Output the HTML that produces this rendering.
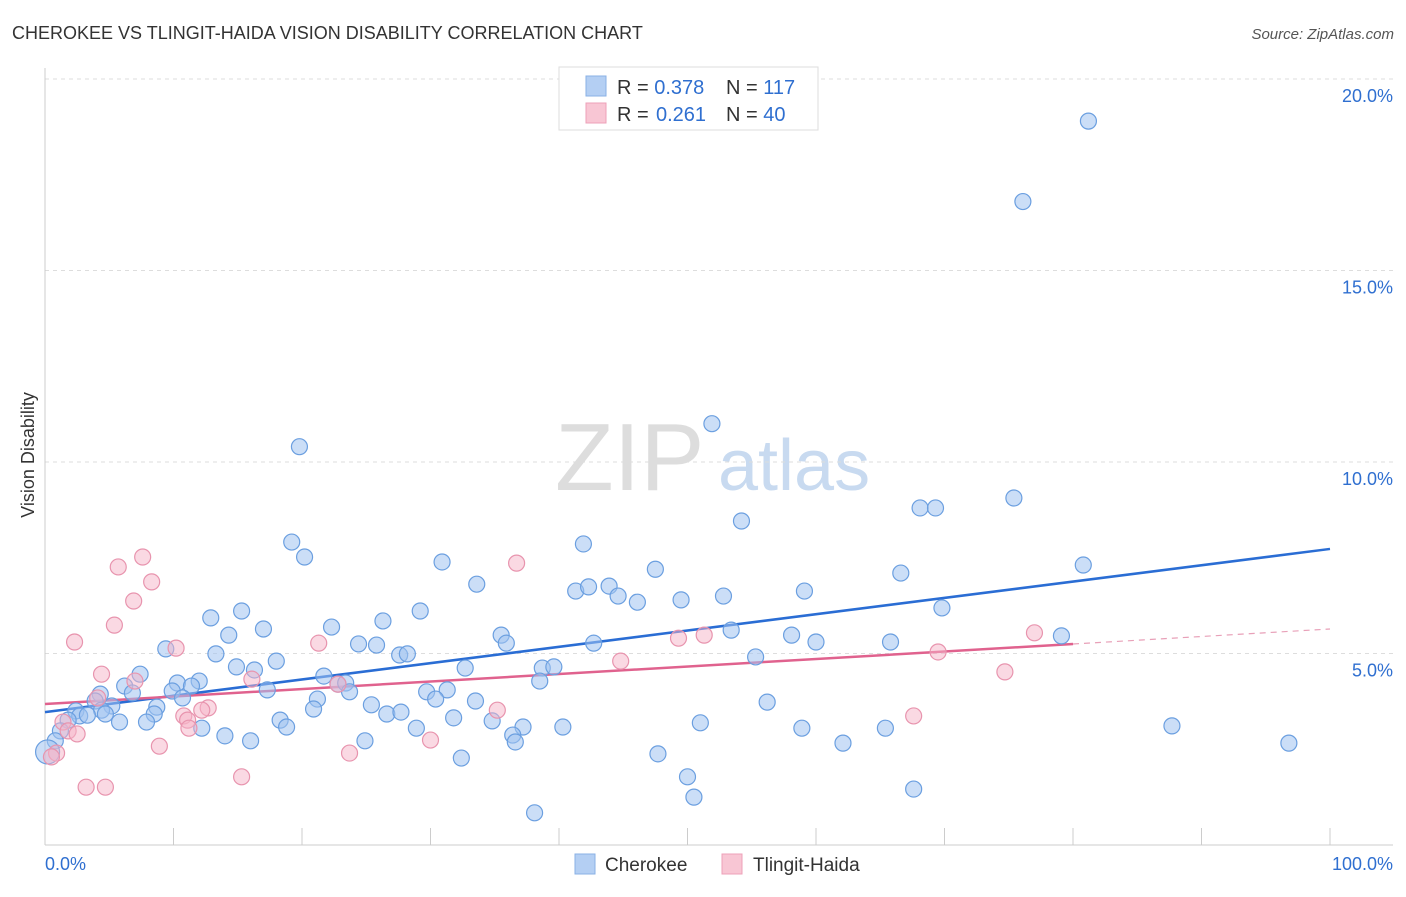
<!DOCTYPE html>
<html><head><meta charset="utf-8"><style>
body{margin:0;background:#fff;font-family:"Liberation Sans",sans-serif;}
svg text{font-family:"Liberation Sans",sans-serif;}
</style></head><body>
<svg id="c" width="1406" height="892" xmlns="http://www.w3.org/2000/svg">
<text x="12" y="39" font-size="18" fill="#333">CHEROKEE VS TLINGIT-HAIDA VISION DISABILITY CORRELATION CHART</text>
<text x="1394" y="39" font-size="15" font-style="italic" fill="#555" text-anchor="end">Source: ZipAtlas.com</text>
<text x="34" y="455" font-size="18" fill="#333" text-anchor="middle" transform="rotate(-90 34 455)">Vision Disability</text>
<g><text x="555" y="490" font-size="96" font-family="Liberation Serif" fill="#ddd">ZIP</text><text x="718" y="490" font-size="72" fill="#c8daf0">atlas</text></g>
<g id="grid"></g><g id="axes"></g><g id="trend"></g><g id="pts"></g>
<g>
<rect x="559" y="67" width="259" height="63" fill="#fff" stroke="#ddd"/>
<rect x="586" y="76" width="20" height="20" fill="#b4cff3" stroke="#8ab0e6"/>
<rect x="586" y="103" width="20" height="20" fill="#f8c6d4" stroke="#eea0b8"/>
<text x="617" y="94" font-size="20" fill="#333">R = <tspan fill="#2f6fd0">0.378</tspan><tspan x="726">N = </tspan><tspan fill="#2f6fd0">117</tspan></text>
<text x="617" y="121" font-size="20" fill="#333">R = <tspan fill="#2f6fd0" x="656">0.261</tspan><tspan x="726">N = </tspan><tspan fill="#2f6fd0">40</tspan></text>
</g>
<g>
<rect x="575" y="854" width="20" height="20" fill="#b4cff3" stroke="#8ab0e6"/>
<text x="605" y="871" font-size="19" fill="#333">Cherokee</text>
<rect x="722" y="854" width="20" height="20" fill="#f8c6d4" stroke="#eea0b8"/>
<text x="753" y="871" font-size="19" fill="#333">Tlingit-Haida</text>
</g>
</svg>
<script>
const blueX=[81.2,76.1,19.8,51.9,54.2,68.1,69.3,75.4,19.2,20.2,30.9,41.9,47.5,66.6,80.8,33.6,41.3,42.3,43.9,44.6,46.1,49.5,52.8,59.1,69.8,15.3,12.9,29.2,26.3,22.3,17.0,14.3,35.5,35.9,24.4,25.8,42.7,53.4,58.1,60.0,65.8,79.1,9.4,13.3,27.6,28.2,18.0,14.9,16.3,32.7,38.7,39.6,55.3,7.4,21.7,38.5,6.2,10.3,12.0,11.4,9.9,22.8,23.4,23.7,4.3,6.8,17.3,29.7,31.3,30.4,10.7,21.2,3.9,33.5,56.2,5.2,2.4,4.4,8.7,25.4,20.9,8.5,2.7,3.3,4.7,26.6,27.7,1.8,18.3,5.8,7.9,31.8,34.8,18.8,12.2,28.9,37.2,40.3,51.0,58.9,65.4,87.7,1.2,14.0,36.4,16.0,24.9,36.6,62.1,96.8,0.8,47.7,32.4,50.0,67.6,50.5,38.1];
const blueY=[18.9,16.8,10.4,11.0,8.46,8.8,8.8,9.06,7.91,7.52,7.39,7.86,7.2,7.1,7.31,6.81,6.63,6.74,6.76,6.5,6.34,6.4,6.5,6.63,6.19,6.11,5.93,6.11,5.85,5.69,5.64,5.48,5.48,5.27,5.25,5.22,5.27,5.61,5.48,5.3,5.3,5.46,5.12,4.99,4.96,4.99,4.8,4.65,4.57,4.62,4.62,4.65,4.91,4.46,4.41,4.28,4.15,4.23,4.28,4.15,4.02,4.2,4.23,4.0,3.94,3.97,4.05,4.0,4.05,3.81,3.84,3.81,3.76,3.76,3.73,3.63,3.5,3.52,3.6,3.66,3.55,3.42,3.37,3.39,3.42,3.42,3.47,3.26,3.26,3.21,3.21,3.32,3.24,3.08,3.05,3.05,3.08,3.08,3.19,3.05,3.05,3.11,2.98,2.85,2.87,2.72,2.72,2.69,2.66,2.66,2.72,2.38,2.27,1.78,1.46,1.25,0.84];
const blueBigX=[0.2];
const blueBigY=[2.43];
const pinkX=[7.6,5.7,8.3,6.9,36.7,5.4,2.3,10.2,21.3,49.3,51.3,77.0,69.5,44.8,4.4,74.7,7.0,16.1,22.8,4.1,12.7,12.2,35.2,10.8,67.6,11.1,1.4,11.2,1.8,2.5,30.0,8.9,23.7,0.9,0.5,15.3,3.2,4.7];
const pinkY=[7.52,7.26,6.87,6.37,7.36,5.74,5.3,5.14,5.27,5.4,5.48,5.54,5.04,4.8,4.46,4.52,4.28,4.33,4.2,3.84,3.58,3.52,3.52,3.37,3.37,3.26,3.21,3.05,2.98,2.9,2.74,2.58,2.4,2.4,2.3,1.78,1.51,1.51];
const yTicks=[5,10,15,20];
const xTickVals=[0,10,20,30,40,50,60,70,80,90,100];
const blueTrend=[3.47,7.73];
const pinkTrend=[3.68,5.64];
const pinkSolidEnd=80;

const sx=v=>45+v*12.85, sy=v=>845-v*38.3;
const NS="http://www.w3.org/2000/svg";
function mk(tag,attrs,parent){const e=document.createElementNS(NS,tag);for(const k in attrs)e.setAttribute(k,attrs[k]);parent.appendChild(e);return e;}
const grid=document.getElementById('grid'),axes=document.getElementById('axes'),trend=document.getElementById('trend'),pts=document.getElementById('pts');
yTicks.forEach(t=>{
 const l=mk('line',{x1:45,x2:1393,y1:sy(t),y2:sy(t),stroke:'#ddd','stroke-dasharray':'4 4'},grid);
 
 
 const tx=mk('text',{x:1393,y:sy(t)+23,'font-size':18,fill:'#2f6fd0','text-anchor':'end'},grid);
 tx.textContent=t.toFixed(1)+'%';
 
 
});
let a=mk('line',{x1:45,x2:1393,y1:845,y2:845,stroke:'#ccc'},axes);


a=mk('line',{x1:45,x2:45,y1:68,y2:845,stroke:'#ccc'},axes);


xTickVals.forEach(t=>{
 const l=mk('line',{x1:sx(t),x2:sx(t),y1:828,y2:845,stroke:'#ccc'},axes);
 
 
});
let xl=mk('text',{x:45,y:870,'font-size':18,fill:'#2f6fd0'},axes);xl.textContent='0.0%';


xl=mk('text',{x:1393,y:870,'font-size':18,fill:'#2f6fd0','text-anchor':'end'},axes);xl.textContent='100.0%';



function dot(x,y,fill,stroke,name,r){const c=mk('circle',{cx:sx(x),cy:sy(y),r:r||8,fill:fill,stroke:stroke,'stroke-width':1.2},pts);
 
 }
blueX.forEach((x,i)=>dot(x,blueY[i],'rgba(160,195,240,0.55)','#6b9fe0','point-cherokee',8));
blueBigX.forEach((x,i)=>dot(x,blueBigY[i],'rgba(160,195,240,0.55)','#6b9fe0','point-cherokee-large',12));
pinkX.forEach((x,i)=>dot(x,pinkY[i],'rgba(245,180,200,0.5)','#e894ae','point-tlingit-haida'));

let t=mk('line',{x1:sx(0),y1:sy(blueTrend[0]),x2:sx(100),y2:sy(blueTrend[1]),stroke:'#2a6dd4','stroke-width':2.5},trend);


const pm=pinkTrend[0]+(pinkTrend[1]-pinkTrend[0])*pinkSolidEnd/100;
t=mk('line',{x1:sx(0),y1:sy(pinkTrend[0]),x2:sx(pinkSolidEnd),y2:sy(pm),stroke:'#e0628e','stroke-width':2.5},trend);


t=mk('line',{x1:sx(pinkSolidEnd),y1:sy(pm),x2:sx(100),y2:sy(pinkTrend[1]),stroke:'#e8a0b8','stroke-width':1.2,'stroke-dasharray':'6 5'},trend);


</script>
</body></html>
